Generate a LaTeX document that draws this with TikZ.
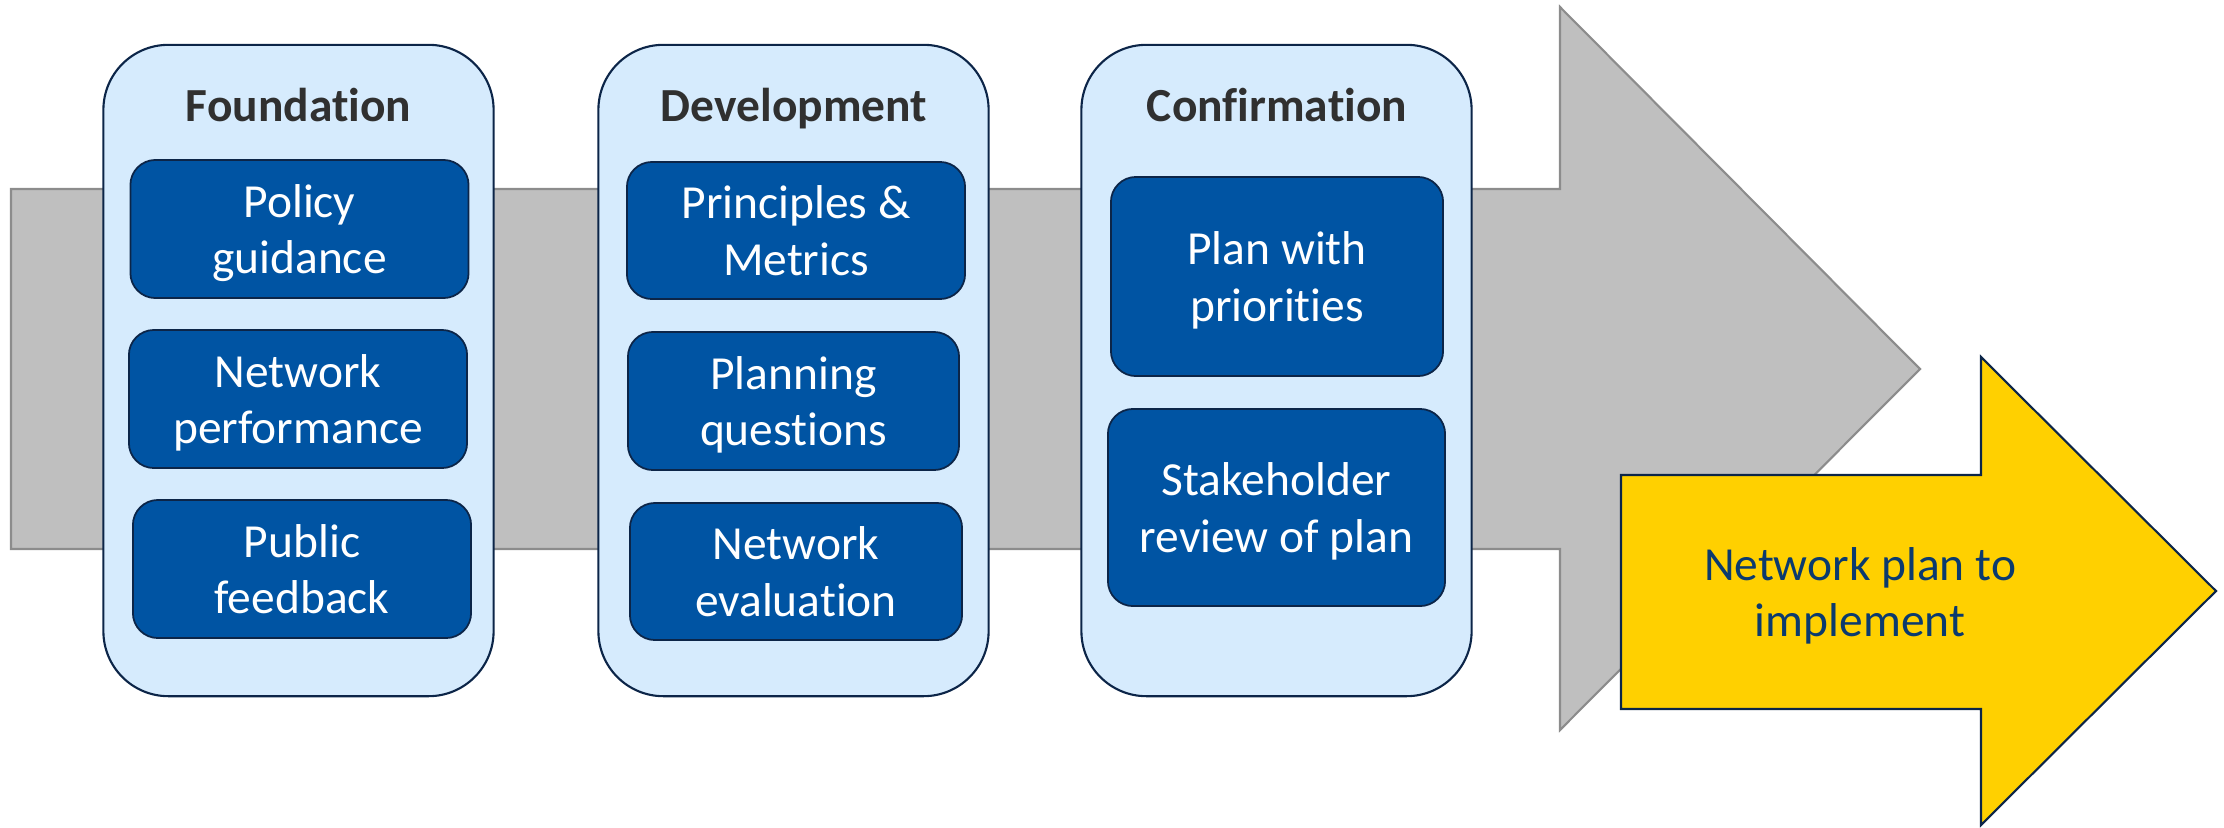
\documentclass[tikz,border=0pt]{standalone}
\usepackage{fontspec}
\setmainfont{Carlito}[Ligatures=NoCommon]
\definecolor{arrowgray}{HTML}{BFBFBF}
\definecolor{edgegray}{HTML}{8C8C8C}
\definecolor{panelblue}{HTML}{D6EBFD}
\definecolor{boxblue}{HTML}{0054A3}
\definecolor{navy}{HTML}{0C2548}
\definecolor{goalyellow}{HTML}{FFD000}
\definecolor{goaltext}{HTML}{0B3A6E}
\definecolor{titlegray}{HTML}{303030}
\begin{document}
\begin{tikzpicture}[x=0.01cm,y=-0.01cm,
  panel/.style={draw=navy, line width=0.6pt, fill=panelblue, rounded corners=0.65cm,
    minimum width=3.9cm, minimum height=6.51cm},
  title/.style={anchor=base, text=titlegray, font=\fontsize{13.5}{16.2}\selectfont\bfseries},
  task/.style={draw=navy, line width=0.5pt, fill=boxblue, rounded corners=0.25cm,
    text=white, align=center, inner sep=0pt, text depth=0pt, font=\fontsize{13.5}{16.2}\selectfont}]
  \useasboundingbox (0,0) rectangle (2224,827);
  % big gray arrow behind the stages
  \draw[line width=0.6pt, draw=edgegray, fill=arrowgray]
    (11,189) -- (1560,189) -- (1560,7) -- (1920,369) -- (1560,730) -- (1560,549) -- (11,549) -- cycle;
  % stages
  \node[panel] (found) at (298.5,370.5) {};
  \node[panel] (devel) at (793.5,370.5) {};
  \node[panel] (confirm) at (1276.5,370.5) {};
  \node[title] (foundT) at (298.5,121) {Foundation};
  \node[title] (develT) at (794,121) {Development};
  \node[title] (confirmT) at (1277,121) {Confirmation};
  % foundation
  \node[task, minimum width=3.38cm, minimum height=1.38cm] (policy) at (299.5,229) {Policy\\guidance};
  \node[task, minimum width=3.38cm, minimum height=1.38cm] (perf) at (298,399) {Network\\performance};
  \node[task, minimum width=3.38cm, minimum height=1.38cm] (public) at (302,569) {Public\\feedback};
  % development
  \node[task, minimum width=3.38cm, minimum height=1.37cm] (princ) at (796,230.5) {Principles \&\\Metrics};
  \node[task, minimum width=3.31cm, minimum height=1.38cm] (quest) at (793.5,401) {Planning\\questions};
  \node[task, minimum width=3.32cm, minimum height=1.37cm] (evalu) at (796,571.5) {Network\\evaluation};
  % confirmation
  \node[task, minimum width=3.32cm, minimum height=1.99cm] (prior) at (1277,276.5) {Plan with\\priorities};
  \node[task, minimum width=3.37cm, minimum height=1.97cm] (review) at (1276.5,507.5) {Stakeholder\\review of plan};
  % result arrow
  \draw[line width=0.6pt, draw=navy, fill=goalyellow]
    (1621,475) -- (1981,475) -- (1981,357) -- (2216,591) -- (1981,825) -- (1981,709) -- (1621,709) -- cycle;
  \node[align=center, text=goaltext, text depth=0pt, font=\fontsize{13.5}{16.2}\selectfont] (goal) at (1860,592) {Network plan to\\implement};
\end{tikzpicture}
\end{document}
